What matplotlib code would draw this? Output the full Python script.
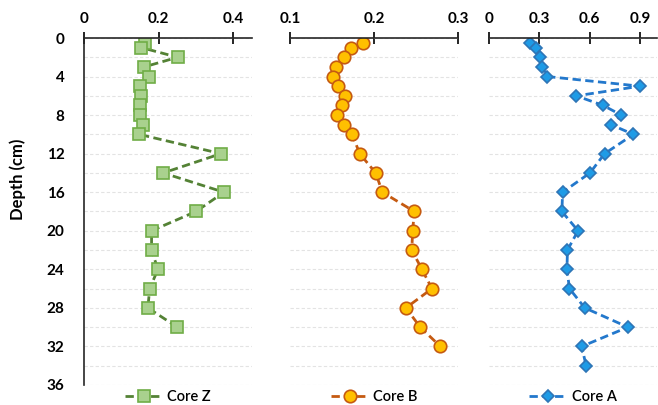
import matplotlib.pyplot as plt
from matplotlib.ticker import MultipleLocator

plt.rcParams['font.family'] = ['Lato', 'DejaVu Sans']

# Core Z
depth_z = [0.5, 1, 2, 3, 4, 5, 6, 7, 8, 9, 10, 12, 14, 16, 18, 20, 22, 24, 26, 28, 30]
core_z = [0.164, 0.154, 0.251, 0.161, 0.173, 0.150, 0.152, 0.151, 0.149, 0.158, 0.148,
          0.367, 0.212, 0.375, 0.300, 0.181, 0.181, 0.198, 0.176, 0.171, 0.250]

# Core B
depth_b = [0.5, 1, 2, 3, 4, 5, 6, 7, 8, 9, 10, 12, 14, 16, 18, 20, 22, 24, 26, 28, 30, 32]
core_b = [0.187, 0.173, 0.164, 0.155, 0.151, 0.157, 0.166, 0.162, 0.156, 0.164, 0.174,
          0.183, 0.202, 0.210, 0.248, 0.246, 0.245, 0.257, 0.269, 0.238, 0.255, 0.279]

# Core A
depth_a = [0.5, 1, 2, 3, 4, 5, 6, 7, 8, 9, 10, 12, 14, 16, 18, 20, 22, 24, 26, 28, 30, 32, 34]
core_a = [0.246, 0.279, 0.302, 0.316, 0.348, 0.900, 0.520, 0.680, 0.788, 0.727, 0.860,
          0.688, 0.601, 0.438, 0.434, 0.530, 0.467, 0.464, 0.479, 0.570, 0.827, 0.552, 0.578]

panels = [
    dict(x=core_z, d=depth_z, label="Core Z", marker="s", ms=8, face="#A9D18E", edge="#70AD47",
         line="#548235", xlim=(0, 0.45), ticks=[0, 0.2, 0.4], left=84),
    dict(x=core_b, d=depth_b, label="Core B", marker="o", ms=9, face="#FFC000", edge="#C55A11",
         line="#C55A11", xlim=(0.1, 0.3), ticks=[0.1, 0.2, 0.3], left=290),
    dict(x=core_a, d=depth_a, label="Core A", marker="D", ms=6.5, face="#1E9BE6", edge="#2E75B6",
         line="#2378CC", xlim=(0, 1.0), ticks=[0, 0.3, 0.6, 0.9], left=489),
]

W, H = 658, 405
fig = plt.figure(figsize=(W / 100, H / 100), dpi=100)

for i, p in enumerate(panels):
    ax = fig.add_axes([p["left"] / W, 1 - 385 / H, 168 / W, (385 - 38) / H])
    ax.plot(p["x"], p["d"], linestyle=(0, (3, 1.6)), lw=2, color=p["line"],
            marker=p["marker"], ms=p["ms"], mfc=p["face"], mec=p["edge"], mew=1.2,
            label=p["label"])
    ax.set_ylim(36, 0)
    ax.set_xlim(*p["xlim"])
    ax.set_xticks(p["ticks"])
    ax.set_xticklabels([f"{t:g}" for t in p["ticks"]])
    ax.xaxis.tick_top()
    ax.tick_params(axis="x", direction="inout", length=9, width=1.2, labelsize=11, pad=4)
    ax.yaxis.set_major_locator(MultipleLocator(4))
    ax.yaxis.set_minor_locator(MultipleLocator(2))
    ax.grid(axis="y", which="both", color="#E3E3E3", linestyle=(0, (3, 2)), lw=0.8)
    ax.set_axisbelow(True)
    for s in ["right", "bottom"]:
        ax.spines[s].set_visible(False)
    ax.spines["top"].set_linewidth(1.2)
    ax.spines["top"].set_color("#262626")
    if i == 0:
        ax.spines["left"].set_linewidth(1.2)
        ax.spines["left"].set_color("#262626")
        ax.tick_params(axis="y", length=0, labelsize=11, pad=14)
        ax.tick_params(axis="y", which="minor", length=0)
    else:
        ax.spines["left"].set_visible(False)
        ax.tick_params(axis="y", which="both", length=0, labelleft=False)
    for lbl in ax.get_xticklabels() + ax.get_yticklabels():
        lbl.set_fontweight("bold")
    ax.legend(loc="center", bbox_to_anchor=(0.5, -0.035), frameon=False,
              handlelength=2.6, handletextpad=0.3, borderpad=0.1,
              prop={"weight": "semibold", "size": 10.5})

fig.text(18 / W, 1 - 179 / H, "Depth (cm)", rotation=90, ha="center", va="center",
         fontsize=12, fontweight="bold")

fig.savefig("out.png", dpi=100)
